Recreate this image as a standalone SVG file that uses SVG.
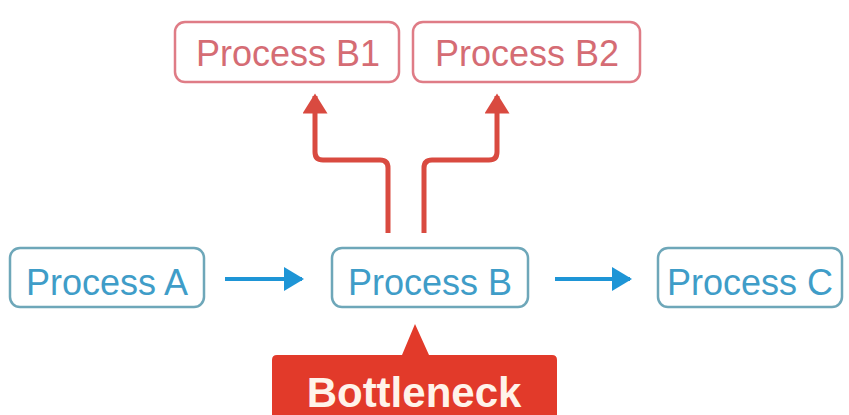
<svg xmlns="http://www.w3.org/2000/svg" width="849" height="415" viewBox="0 0 849 415">
  <defs>
    <style>
      .box-blue { fill: #ffffff; stroke: #6ea7b9; stroke-width: 2.5; }
      .box-red { fill: #ffffff; stroke: #df7c86; stroke-width: 2.5; }
      .txt { font-family: "Liberation Sans", Arial, sans-serif; font-size: 36px; text-anchor: middle; }
      .txt-blue { fill: #3f9dc8; }
      .txt-red { fill: #d56c74; }
      .flow { stroke: #1e95d6; stroke-width: 4; fill: none; }
      .split { stroke: #d94a40; stroke-width: 5; fill: none; stroke-linejoin: round; }
    </style>
    <marker id="arrow-blue" markerWidth="6" markerHeight="6" refX="4.5" refY="3" orient="auto" markerUnits="strokeWidth">
      <path d="M0,0 L5,3 L0,6 Z" fill="#1e95d6"/>
    </marker>
    <marker id="arrow-red" markerWidth="5" markerHeight="5" refX="3.5" refY="2.5" orient="auto" markerUnits="strokeWidth">
      <path d="M0,0 L4,2.5 L0,5 Z" fill="#d94a40"/>
    </marker>
  </defs>

  <rect width="849" height="415" fill="#ffffff"/>

  <!-- connectors -->
  <g id="connectors">
    <line class="flow" x1="225" y1="279" x2="302" y2="279" marker-end="url(#arrow-blue)"/>
    <line class="flow" x1="555" y1="279" x2="630" y2="279" marker-end="url(#arrow-blue)"/>
    <path class="split" d="M388,233 V168 Q388,160 380,160 H323 Q315,160 315,152 V96" marker-end="url(#arrow-red)"/>
    <path class="split" d="M424,233 V168 Q424,160 432,160 H489 Q497,160 497,152 V96" marker-end="url(#arrow-red)"/>
  </g>

  <!-- nodes -->
  <g id="process-b1">
    <rect class="box-red" x="175" y="22" width="224" height="60" rx="10"/>
    <text class="txt txt-red" x="288" y="66">Process B1</text>
  </g>
  <g id="process-b2">
    <rect class="box-red" x="413" y="22" width="227" height="60" rx="10"/>
    <text class="txt txt-red" x="527" y="66">Process B2</text>
  </g>
  <g id="process-a">
    <rect class="box-blue" x="10" y="248" width="194" height="59" rx="10"/>
    <text class="txt txt-blue" x="107" y="295">Process A</text>
  </g>
  <g id="process-b">
    <rect class="box-blue" x="332" y="248" width="196" height="59" rx="10"/>
    <text class="txt txt-blue" x="430" y="295">Process B</text>
  </g>
  <g id="process-c">
    <rect class="box-blue" x="658" y="248" width="184" height="59" rx="10"/>
    <text class="txt txt-blue" x="750" y="295">Process C</text>
  </g>

  <g id="bottleneck">
    <path d="M272,360 Q272,355 277,355 H402 L415,324 L429,355 H552 Q557,355 557,360 V415 H272 Z" fill="#e23a2a"/>
    <text x="414" y="407" font-family="'Liberation Sans', Arial, sans-serif" font-size="42" font-weight="bold" fill="#fff3ea" text-anchor="middle">Bottleneck</text>
  </g>
</svg>
